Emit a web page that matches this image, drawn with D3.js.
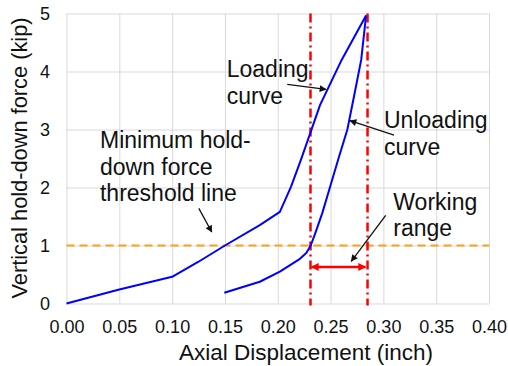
<!DOCTYPE html>
<html>
<head>
<meta charset="utf-8">
<script src="https://cdn.jsdelivr.net/npm/d3@7"></script>
<style>
  body { margin: 0; background: #fff; }
  text { font-family: "Liberation Sans", Arial, sans-serif; fill: #111; }
  .grid line { stroke: #d9d9d9; stroke-width: 1; }
  .grid .domain { display: none; }
  .tick text { font-size: 18px; }
  .note { font-size: 23px; }
</style>
</head>
<body>
<div class="chart"></div>
<script>
var svgWidth = 508;
var svgHeight = 366;

// loading branch (inch, kip)
var loadX = [0.000, 0.050, 0.100, 0.125, 0.150, 0.183, 0.202, 0.2125, 0.222, 0.2312, 0.240, 0.2605, 0.2836];
var loadY = [0.00, 0.24, 0.46, 0.72, 1.00, 1.35, 1.58, 2.01, 2.48, 2.96, 3.42, 4.20, 4.965];

// unloading branch
var unloadX = [0.2836, 0.279, 0.2725, 0.2659, 0.2575, 0.2495, 0.242, 0.2353, 0.2312, 0.227, 0.221, 0.202, 0.183, 0.1494];
var unloadY = [4.965, 4.20, 3.60, 3.00, 2.50, 2.01, 1.55, 1.20, 1.00, 0.87, 0.77, 0.55, 0.375, 0.186];

var xTicks = [0, 0.05, 0.10, 0.15, 0.20, 0.25, 0.30, 0.35, 0.40];
var yTicks = [0, 1, 2, 3, 4, 5];

var thresholdForce = 1.0;
var rangeLimits = [0.231, 0.285];
var rangeArrowForce = 0.63;

var svg = d3.select(".chart")
    .append("svg")
    .attr("width", svgWidth)
    .attr("height", svgHeight);

var x = d3.scaleLinear().domain([0, 0.4]).range([66.5, 489]);
var y = d3.scaleLinear().domain([0, 5]).range([303.5, 13.5]);

var defs = svg.append("defs");
function marker(id, color, w, h) {
    defs.append("marker")
        .attr("id", id)
        .attr("viewBox", "0 0 10 10")
        .attr("refX", 9).attr("refY", 5)
        .attr("markerWidth", w).attr("markerHeight", h)
        .attr("markerUnits", "userSpaceOnUse")
        .attr("orient", "auto-start-reverse")
        .append("path")
        .attr("d", "M0,0 L10,5 L0,10 z")
        .attr("fill", color);
}
marker("arrBlack", "#111", 9, 7);
marker("arrRed", "#ff0000", 10, 8);

// gridlines + tick labels
svg.append("g")
    .attr("class", "grid")
    .attr("transform", `translate(0, ${y(0)})`)
    .call(d3.axisBottom(x).tickValues(xTicks).tickFormat(d3.format(".2f"))
        .tickSizeInner(-(y(0) - y(5))).tickSizeOuter(0).tickPadding(17));

svg.append("g")
    .attr("class", "grid")
    .attr("transform", `translate(${x(0)}, 0)`)
    .call(d3.axisLeft(y).tickValues(yTicks).tickFormat(d3.format("d"))
        .tickSizeInner(-(x(0.4) - x(0))).tickSizeOuter(0).tickPadding(16.5));

svg.selectAll(".tick text").attr("fill", "#111");

// threshold line
svg.append("line")
    .attr("x1", x(0)).attr("x2", x(0.4))
    .attr("y1", y(thresholdForce)).attr("y2", y(thresholdForce))
    .attr("stroke", "#f7a21b")
    .attr("stroke-width", 2)
    .attr("stroke-dasharray", "8,5");

// working range limits
svg.selectAll(".limit").data(rangeLimits).enter()
    .append("line")
    .attr("class", "limit")
    .attr("x1", d => x(d)).attr("x2", d => x(d))
    .attr("y1", y(5)).attr("y2", y(0) + 2)
    .attr("stroke", "#ff0000")
    .attr("stroke-width", 2.5)
    .attr("stroke-dasharray", "9,4,2,4");

// curves
var line = d3.line().x(d => x(d[0])).y(d => y(d[1]));
svg.append("path")
    .datum(d3.zip(loadX, loadY))
    .attr("d", line)
    .attr("fill", "none")
    .attr("stroke", "#0000ff")
    .attr("stroke-width", 2)
    .attr("stroke-linejoin", "round");
svg.append("path")
    .datum(d3.zip(unloadX, unloadY))
    .attr("d", line)
    .attr("fill", "none")
    .attr("stroke", "#0000ff")
    .attr("stroke-width", 2)
    .attr("stroke-linejoin", "round");

// working range double arrow
svg.append("line")
    .attr("x1", x(rangeLimits[0]) + 1).attr("x2", x(rangeLimits[1]) - 2)
    .attr("y1", y(rangeArrowForce)).attr("y2", y(rangeArrowForce))
    .attr("stroke", "#ff0000")
    .attr("stroke-width", 2.5)
    .attr("marker-start", "url(#arrRed)")
    .attr("marker-end", "url(#arrRed)");

// annotations
var notes = [
    { lines: ["Loading", "curve"], at: [0.1517, 3.905], from: [0.2090, 3.779], to: [0.2457, 3.69] },
    { lines: ["Unloading", "curve"], at: [0.3006, 3.021], from: [0.3101, 2.905], to: [0.2684, 3.152] },
    { lines: ["Minimum hold-", "down force", "threshold line"], at: [0.0317, 2.681], from: [0.1253, 1.641], to: [0.1375, 1.233] },
    { lines: ["Working", "range"], at: [0.3094, 1.617], from: [0.3022, 1.521], to: [0.2696, 0.728] }
];

notes.forEach(function(n) {
    var t = svg.append("text")
        .attr("class", "note")
        .attr("x", x(n.at[0]))
        .attr("y", y(n.at[1]));
    n.lines.forEach(function(s, i) {
        t.append("tspan")
            .attr("x", x(n.at[0]))
            .attr("dy", i === 0 ? 0 : 26.5)
            .text(s);
    });
    svg.append("line")
        .attr("x1", x(n.from[0])).attr("y1", y(n.from[1]))
        .attr("x2", x(n.to[0])).attr("y2", y(n.to[1]))
        .attr("stroke", "#111")
        .attr("stroke-width", 1.3)
        .attr("marker-end", "url(#arrBlack)");
});

// axis titles
svg.append("text")
    .attr("x", 306)
    .attr("y", 360)
    .attr("text-anchor", "middle")
    .style("font-size", "22.5px")
    .text("Axial Displacement (inch)");

svg.append("text")
    .attr("transform", "translate(27, 158) rotate(-90)")
    .attr("text-anchor", "middle")
    .style("font-size", "21.8px")
    .text("Vertical hold-down force (kip)");
</script>
</body>
</html>
